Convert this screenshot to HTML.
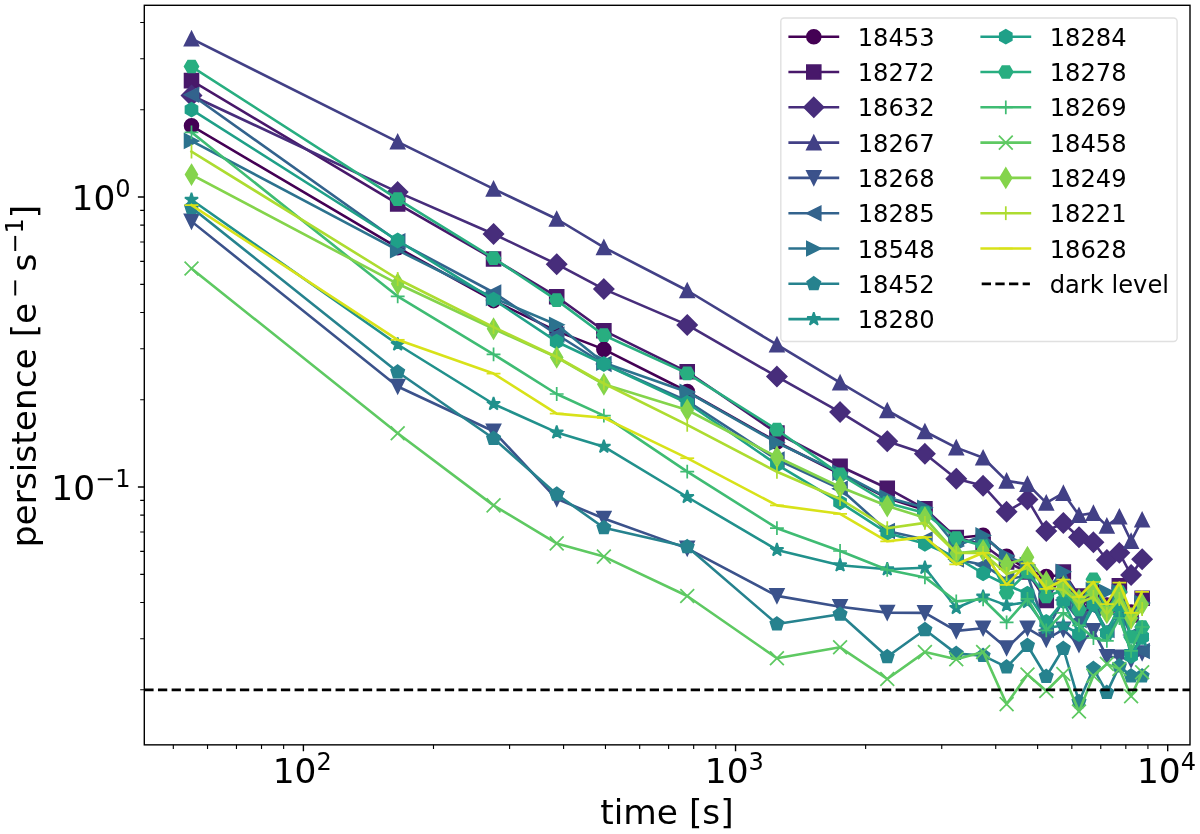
<!DOCTYPE html>
<html lang="en"><head><meta charset="utf-8"><title>persistence vs time</title>
<style>html,body{margin:0;padding:0;background:#fff}svg{display:block}</style></head>
<body>
<svg width="1200" height="834" viewBox="0 0 1200 834" font-family="'DejaVu Sans', 'Liberation Sans', sans-serif" fill="#000">
<rect width="1200" height="834" fill="#fff"/>
<defs><clipPath id="ax"><rect x="144.3" y="5.3" width="1045.7" height="739.55"/></clipPath></defs>
<g clip-path="url(#ax)">
<polyline points="191.5,125.8 397.69,247.7 493.56,300.6 556.71,331.1 603.87,349.4 687.23,391.5 776.93,442 840.08,474 887.25,498 924.91,510 956.26,538 983.12,535.2 1006.61,556.3 1027.48,570 1046.27,576.5 1063.34,575 1078.99,609 1093.43,590 1106.85,605 1119.36,588 1131.1,612 1142.14,600" fill="none" stroke="#440154" stroke-width="2.6" stroke-linejoin="round" stroke-linecap="square"/>
<g><circle cx="191.5" cy="125.8" r="6.92" fill="#440154" stroke="#440154" stroke-width="1.73" stroke-linejoin="miter"/><circle cx="397.69" cy="247.7" r="6.92" fill="#440154" stroke="#440154" stroke-width="1.73" stroke-linejoin="miter"/><circle cx="493.56" cy="300.6" r="6.92" fill="#440154" stroke="#440154" stroke-width="1.73" stroke-linejoin="miter"/><circle cx="556.71" cy="331.1" r="6.92" fill="#440154" stroke="#440154" stroke-width="1.73" stroke-linejoin="miter"/><circle cx="603.87" cy="349.4" r="6.92" fill="#440154" stroke="#440154" stroke-width="1.73" stroke-linejoin="miter"/><circle cx="687.23" cy="391.5" r="6.92" fill="#440154" stroke="#440154" stroke-width="1.73" stroke-linejoin="miter"/><circle cx="776.93" cy="442" r="6.92" fill="#440154" stroke="#440154" stroke-width="1.73" stroke-linejoin="miter"/><circle cx="840.08" cy="474" r="6.92" fill="#440154" stroke="#440154" stroke-width="1.73" stroke-linejoin="miter"/><circle cx="887.25" cy="498" r="6.92" fill="#440154" stroke="#440154" stroke-width="1.73" stroke-linejoin="miter"/><circle cx="924.91" cy="510" r="6.92" fill="#440154" stroke="#440154" stroke-width="1.73" stroke-linejoin="miter"/><circle cx="956.26" cy="538" r="6.92" fill="#440154" stroke="#440154" stroke-width="1.73" stroke-linejoin="miter"/><circle cx="983.12" cy="535.2" r="6.92" fill="#440154" stroke="#440154" stroke-width="1.73" stroke-linejoin="miter"/><circle cx="1006.61" cy="556.3" r="6.92" fill="#440154" stroke="#440154" stroke-width="1.73" stroke-linejoin="miter"/><circle cx="1027.48" cy="570" r="6.92" fill="#440154" stroke="#440154" stroke-width="1.73" stroke-linejoin="miter"/><circle cx="1046.27" cy="576.5" r="6.92" fill="#440154" stroke="#440154" stroke-width="1.73" stroke-linejoin="miter"/><circle cx="1063.34" cy="575" r="6.92" fill="#440154" stroke="#440154" stroke-width="1.73" stroke-linejoin="miter"/><circle cx="1078.99" cy="609" r="6.92" fill="#440154" stroke="#440154" stroke-width="1.73" stroke-linejoin="miter"/><circle cx="1093.43" cy="590" r="6.92" fill="#440154" stroke="#440154" stroke-width="1.73" stroke-linejoin="miter"/><circle cx="1106.85" cy="605" r="6.92" fill="#440154" stroke="#440154" stroke-width="1.73" stroke-linejoin="miter"/><circle cx="1119.36" cy="588" r="6.92" fill="#440154" stroke="#440154" stroke-width="1.73" stroke-linejoin="miter"/><circle cx="1131.1" cy="612" r="6.92" fill="#440154" stroke="#440154" stroke-width="1.73" stroke-linejoin="miter"/><circle cx="1142.14" cy="600" r="6.92" fill="#440154" stroke="#440154" stroke-width="1.73" stroke-linejoin="miter"/></g>
<polyline points="191.5,80.6 397.69,203.9 493.56,259 556.71,296.7 603.87,330.7 687.23,371.8 776.93,433 840.08,466.2 887.25,488.2 924.91,508.8 956.26,537.6 983.12,544.8 1006.61,562 1027.48,572 1046.27,600.5 1063.34,572 1078.99,596 1093.43,604 1106.85,606 1119.36,585.8 1131.1,615 1142.14,598.2" fill="none" stroke="#48186a" stroke-width="2.6" stroke-linejoin="round" stroke-linecap="square"/>
<g><path d="M184.58 87.52L198.42 87.52L198.42 73.68L184.58 73.68Z" fill="#48186a" stroke="#48186a" stroke-width="1.73" stroke-linejoin="miter"/><path d="M390.77 210.82L404.61 210.82L404.61 196.98L390.77 196.98Z" fill="#48186a" stroke="#48186a" stroke-width="1.73" stroke-linejoin="miter"/><path d="M486.64 265.92L500.48 265.92L500.48 252.08L486.64 252.08Z" fill="#48186a" stroke="#48186a" stroke-width="1.73" stroke-linejoin="miter"/><path d="M549.79 303.62L563.63 303.62L563.63 289.78L549.79 289.78Z" fill="#48186a" stroke="#48186a" stroke-width="1.73" stroke-linejoin="miter"/><path d="M596.95 337.62L610.79 337.62L610.79 323.78L596.95 323.78Z" fill="#48186a" stroke="#48186a" stroke-width="1.73" stroke-linejoin="miter"/><path d="M680.31 378.72L694.15 378.72L694.15 364.88L680.31 364.88Z" fill="#48186a" stroke="#48186a" stroke-width="1.73" stroke-linejoin="miter"/><path d="M770.01 439.92L783.85 439.92L783.85 426.08L770.01 426.08Z" fill="#48186a" stroke="#48186a" stroke-width="1.73" stroke-linejoin="miter"/><path d="M833.16 473.12L847 473.12L847 459.28L833.16 459.28Z" fill="#48186a" stroke="#48186a" stroke-width="1.73" stroke-linejoin="miter"/><path d="M880.33 495.12L894.17 495.12L894.17 481.28L880.33 481.28Z" fill="#48186a" stroke="#48186a" stroke-width="1.73" stroke-linejoin="miter"/><path d="M917.99 515.72L931.83 515.72L931.83 501.88L917.99 501.88Z" fill="#48186a" stroke="#48186a" stroke-width="1.73" stroke-linejoin="miter"/><path d="M949.34 544.52L963.18 544.52L963.18 530.68L949.34 530.68Z" fill="#48186a" stroke="#48186a" stroke-width="1.73" stroke-linejoin="miter"/><path d="M976.2 551.72L990.04 551.72L990.04 537.88L976.2 537.88Z" fill="#48186a" stroke="#48186a" stroke-width="1.73" stroke-linejoin="miter"/><path d="M999.69 568.92L1013.53 568.92L1013.53 555.08L999.69 555.08Z" fill="#48186a" stroke="#48186a" stroke-width="1.73" stroke-linejoin="miter"/><path d="M1020.56 578.92L1034.4 578.92L1034.4 565.08L1020.56 565.08Z" fill="#48186a" stroke="#48186a" stroke-width="1.73" stroke-linejoin="miter"/><path d="M1039.35 607.42L1053.19 607.42L1053.19 593.58L1039.35 593.58Z" fill="#48186a" stroke="#48186a" stroke-width="1.73" stroke-linejoin="miter"/><path d="M1056.42 578.92L1070.26 578.92L1070.26 565.08L1056.42 565.08Z" fill="#48186a" stroke="#48186a" stroke-width="1.73" stroke-linejoin="miter"/><path d="M1072.07 602.92L1085.91 602.92L1085.91 589.08L1072.07 589.08Z" fill="#48186a" stroke="#48186a" stroke-width="1.73" stroke-linejoin="miter"/><path d="M1086.51 610.92L1100.35 610.92L1100.35 597.08L1086.51 597.08Z" fill="#48186a" stroke="#48186a" stroke-width="1.73" stroke-linejoin="miter"/><path d="M1099.93 612.92L1113.77 612.92L1113.77 599.08L1099.93 599.08Z" fill="#48186a" stroke="#48186a" stroke-width="1.73" stroke-linejoin="miter"/><path d="M1112.44 592.72L1126.28 592.72L1126.28 578.88L1112.44 578.88Z" fill="#48186a" stroke="#48186a" stroke-width="1.73" stroke-linejoin="miter"/><path d="M1124.18 621.92L1138.02 621.92L1138.02 608.08L1124.18 608.08Z" fill="#48186a" stroke="#48186a" stroke-width="1.73" stroke-linejoin="miter"/><path d="M1135.22 605.12L1149.06 605.12L1149.06 591.28L1135.22 591.28Z" fill="#48186a" stroke="#48186a" stroke-width="1.73" stroke-linejoin="miter"/></g>
<polyline points="191.5,95.5 397.69,192.1 493.56,234 556.71,264.2 603.87,289.1 687.23,324.9 776.93,376.6 840.08,412.1 887.25,441.2 924.91,453.8 956.26,478.7 983.12,485.8 1006.61,511.8 1027.48,499.4 1046.27,531.1 1063.34,523 1078.99,537.2 1093.43,542.3 1106.85,560 1119.36,552.8 1131.1,575 1142.14,559.2" fill="none" stroke="#472d7b" stroke-width="2.6" stroke-linejoin="round" stroke-linecap="square"/>
<g><path d="M191.5 85.71L201.28 95.5L191.5 105.29L181.71 95.5Z" fill="#472d7b" stroke="#472d7b" stroke-width="1.73" stroke-linejoin="miter"/><path d="M397.69 182.31L407.47 192.1L397.69 201.89L387.9 192.1Z" fill="#472d7b" stroke="#472d7b" stroke-width="1.73" stroke-linejoin="miter"/><path d="M493.56 224.21L503.34 234L493.56 243.79L483.77 234Z" fill="#472d7b" stroke="#472d7b" stroke-width="1.73" stroke-linejoin="miter"/><path d="M556.71 254.41L566.49 264.2L556.71 273.99L546.92 264.2Z" fill="#472d7b" stroke="#472d7b" stroke-width="1.73" stroke-linejoin="miter"/><path d="M603.87 279.31L613.66 289.1L603.87 298.89L594.09 289.1Z" fill="#472d7b" stroke="#472d7b" stroke-width="1.73" stroke-linejoin="miter"/><path d="M687.23 315.11L697.01 324.9L687.23 334.69L677.44 324.9Z" fill="#472d7b" stroke="#472d7b" stroke-width="1.73" stroke-linejoin="miter"/><path d="M776.93 366.81L786.72 376.6L776.93 386.39L767.14 376.6Z" fill="#472d7b" stroke="#472d7b" stroke-width="1.73" stroke-linejoin="miter"/><path d="M840.08 402.31L849.87 412.1L840.08 421.89L830.29 412.1Z" fill="#472d7b" stroke="#472d7b" stroke-width="1.73" stroke-linejoin="miter"/><path d="M887.25 431.41L897.03 441.2L887.25 450.99L877.46 441.2Z" fill="#472d7b" stroke="#472d7b" stroke-width="1.73" stroke-linejoin="miter"/><path d="M924.91 444.01L934.69 453.8L924.91 463.59L915.12 453.8Z" fill="#472d7b" stroke="#472d7b" stroke-width="1.73" stroke-linejoin="miter"/><path d="M956.26 468.91L966.05 478.7L956.26 488.49L946.47 478.7Z" fill="#472d7b" stroke="#472d7b" stroke-width="1.73" stroke-linejoin="miter"/><path d="M983.12 476.01L992.9 485.8L983.12 495.59L973.33 485.8Z" fill="#472d7b" stroke="#472d7b" stroke-width="1.73" stroke-linejoin="miter"/><path d="M1006.61 502.01L1016.39 511.8L1006.61 521.59L996.82 511.8Z" fill="#472d7b" stroke="#472d7b" stroke-width="1.73" stroke-linejoin="miter"/><path d="M1027.48 489.61L1037.27 499.4L1027.48 509.19L1017.7 499.4Z" fill="#472d7b" stroke="#472d7b" stroke-width="1.73" stroke-linejoin="miter"/><path d="M1046.27 521.31L1056.05 531.1L1046.27 540.89L1036.48 531.1Z" fill="#472d7b" stroke="#472d7b" stroke-width="1.73" stroke-linejoin="miter"/><path d="M1063.34 513.21L1073.13 523L1063.34 532.79L1053.55 523Z" fill="#472d7b" stroke="#472d7b" stroke-width="1.73" stroke-linejoin="miter"/><path d="M1078.99 527.41L1088.78 537.2L1078.99 546.99L1069.2 537.2Z" fill="#472d7b" stroke="#472d7b" stroke-width="1.73" stroke-linejoin="miter"/><path d="M1093.43 532.51L1103.22 542.3L1093.43 552.09L1083.65 542.3Z" fill="#472d7b" stroke="#472d7b" stroke-width="1.73" stroke-linejoin="miter"/><path d="M1106.85 550.21L1116.63 560L1106.85 569.79L1097.06 560Z" fill="#472d7b" stroke="#472d7b" stroke-width="1.73" stroke-linejoin="miter"/><path d="M1119.36 543.01L1129.15 552.8L1119.36 562.59L1109.58 552.8Z" fill="#472d7b" stroke="#472d7b" stroke-width="1.73" stroke-linejoin="miter"/><path d="M1131.1 565.21L1140.88 575L1131.1 584.79L1121.31 575Z" fill="#472d7b" stroke="#472d7b" stroke-width="1.73" stroke-linejoin="miter"/><path d="M1142.14 549.41L1151.93 559.2L1142.14 568.99L1132.35 559.2Z" fill="#472d7b" stroke="#472d7b" stroke-width="1.73" stroke-linejoin="miter"/></g>
<polyline points="191.5,38.7 397.69,141.8 493.56,188.9 556.71,219 603.87,247.4 687.23,290.5 776.93,344.7 840.08,382.7 887.25,410.5 924.91,431.5 956.26,447.6 983.12,457.8 1006.61,480.9 1027.48,484.1 1046.27,502.9 1063.34,493.2 1078.99,515.3 1093.43,513.1 1106.85,525.9 1119.36,516.8 1131.1,541.1 1142.14,519.8" fill="none" stroke="#424086" stroke-width="2.6" stroke-linejoin="round" stroke-linecap="square"/>
<g><path d="M191.5 31.78L184.58 45.62L198.42 45.62Z" fill="#424086" stroke="#424086" stroke-width="1.73" stroke-linejoin="miter"/><path d="M397.69 134.88L390.77 148.72L404.61 148.72Z" fill="#424086" stroke="#424086" stroke-width="1.73" stroke-linejoin="miter"/><path d="M493.56 181.98L486.64 195.82L500.48 195.82Z" fill="#424086" stroke="#424086" stroke-width="1.73" stroke-linejoin="miter"/><path d="M556.71 212.08L549.79 225.92L563.63 225.92Z" fill="#424086" stroke="#424086" stroke-width="1.73" stroke-linejoin="miter"/><path d="M603.87 240.48L596.95 254.32L610.79 254.32Z" fill="#424086" stroke="#424086" stroke-width="1.73" stroke-linejoin="miter"/><path d="M687.23 283.58L680.31 297.42L694.15 297.42Z" fill="#424086" stroke="#424086" stroke-width="1.73" stroke-linejoin="miter"/><path d="M776.93 337.78L770.01 351.62L783.85 351.62Z" fill="#424086" stroke="#424086" stroke-width="1.73" stroke-linejoin="miter"/><path d="M840.08 375.78L833.16 389.62L847 389.62Z" fill="#424086" stroke="#424086" stroke-width="1.73" stroke-linejoin="miter"/><path d="M887.25 403.58L880.33 417.42L894.17 417.42Z" fill="#424086" stroke="#424086" stroke-width="1.73" stroke-linejoin="miter"/><path d="M924.91 424.58L917.99 438.42L931.83 438.42Z" fill="#424086" stroke="#424086" stroke-width="1.73" stroke-linejoin="miter"/><path d="M956.26 440.68L949.34 454.52L963.18 454.52Z" fill="#424086" stroke="#424086" stroke-width="1.73" stroke-linejoin="miter"/><path d="M983.12 450.88L976.2 464.72L990.04 464.72Z" fill="#424086" stroke="#424086" stroke-width="1.73" stroke-linejoin="miter"/><path d="M1006.61 473.98L999.69 487.82L1013.53 487.82Z" fill="#424086" stroke="#424086" stroke-width="1.73" stroke-linejoin="miter"/><path d="M1027.48 477.18L1020.56 491.02L1034.4 491.02Z" fill="#424086" stroke="#424086" stroke-width="1.73" stroke-linejoin="miter"/><path d="M1046.27 495.98L1039.35 509.82L1053.19 509.82Z" fill="#424086" stroke="#424086" stroke-width="1.73" stroke-linejoin="miter"/><path d="M1063.34 486.28L1056.42 500.12L1070.26 500.12Z" fill="#424086" stroke="#424086" stroke-width="1.73" stroke-linejoin="miter"/><path d="M1078.99 508.38L1072.07 522.22L1085.91 522.22Z" fill="#424086" stroke="#424086" stroke-width="1.73" stroke-linejoin="miter"/><path d="M1093.43 506.18L1086.51 520.02L1100.35 520.02Z" fill="#424086" stroke="#424086" stroke-width="1.73" stroke-linejoin="miter"/><path d="M1106.85 518.98L1099.93 532.82L1113.77 532.82Z" fill="#424086" stroke="#424086" stroke-width="1.73" stroke-linejoin="miter"/><path d="M1119.36 509.88L1112.44 523.72L1126.28 523.72Z" fill="#424086" stroke="#424086" stroke-width="1.73" stroke-linejoin="miter"/><path d="M1131.1 534.18L1124.18 548.02L1138.02 548.02Z" fill="#424086" stroke="#424086" stroke-width="1.73" stroke-linejoin="miter"/><path d="M1142.14 512.88L1135.22 526.72L1149.06 526.72Z" fill="#424086" stroke="#424086" stroke-width="1.73" stroke-linejoin="miter"/></g>
<polyline points="191.5,221.4 397.69,386.5 493.56,431.3 556.71,498.8 603.87,518.5 687.23,548.4 776.93,595.9 840.08,606.7 887.25,612.6 924.91,612.9 956.26,630.9 983.12,628.2 1006.61,648 1027.48,628.3 1046.27,639.5 1063.34,629.4 1078.99,644.7 1093.43,630.8 1106.85,656.7 1119.36,657.2 1131.1,660 1142.14,653" fill="none" stroke="#3b528b" stroke-width="2.6" stroke-linejoin="round" stroke-linecap="square"/>
<g><path d="M191.5 228.32L184.58 214.48L198.42 214.48Z" fill="#3b528b" stroke="#3b528b" stroke-width="1.73" stroke-linejoin="miter"/><path d="M397.69 393.42L390.77 379.58L404.61 379.58Z" fill="#3b528b" stroke="#3b528b" stroke-width="1.73" stroke-linejoin="miter"/><path d="M493.56 438.22L486.64 424.38L500.48 424.38Z" fill="#3b528b" stroke="#3b528b" stroke-width="1.73" stroke-linejoin="miter"/><path d="M556.71 505.72L549.79 491.88L563.63 491.88Z" fill="#3b528b" stroke="#3b528b" stroke-width="1.73" stroke-linejoin="miter"/><path d="M603.87 525.42L596.95 511.58L610.79 511.58Z" fill="#3b528b" stroke="#3b528b" stroke-width="1.73" stroke-linejoin="miter"/><path d="M687.23 555.32L680.31 541.48L694.15 541.48Z" fill="#3b528b" stroke="#3b528b" stroke-width="1.73" stroke-linejoin="miter"/><path d="M776.93 602.82L770.01 588.98L783.85 588.98Z" fill="#3b528b" stroke="#3b528b" stroke-width="1.73" stroke-linejoin="miter"/><path d="M840.08 613.62L833.16 599.78L847 599.78Z" fill="#3b528b" stroke="#3b528b" stroke-width="1.73" stroke-linejoin="miter"/><path d="M887.25 619.52L880.33 605.68L894.17 605.68Z" fill="#3b528b" stroke="#3b528b" stroke-width="1.73" stroke-linejoin="miter"/><path d="M924.91 619.82L917.99 605.98L931.83 605.98Z" fill="#3b528b" stroke="#3b528b" stroke-width="1.73" stroke-linejoin="miter"/><path d="M956.26 637.82L949.34 623.98L963.18 623.98Z" fill="#3b528b" stroke="#3b528b" stroke-width="1.73" stroke-linejoin="miter"/><path d="M983.12 635.12L976.2 621.28L990.04 621.28Z" fill="#3b528b" stroke="#3b528b" stroke-width="1.73" stroke-linejoin="miter"/><path d="M1006.61 654.92L999.69 641.08L1013.53 641.08Z" fill="#3b528b" stroke="#3b528b" stroke-width="1.73" stroke-linejoin="miter"/><path d="M1027.48 635.22L1020.56 621.38L1034.4 621.38Z" fill="#3b528b" stroke="#3b528b" stroke-width="1.73" stroke-linejoin="miter"/><path d="M1046.27 646.42L1039.35 632.58L1053.19 632.58Z" fill="#3b528b" stroke="#3b528b" stroke-width="1.73" stroke-linejoin="miter"/><path d="M1063.34 636.32L1056.42 622.48L1070.26 622.48Z" fill="#3b528b" stroke="#3b528b" stroke-width="1.73" stroke-linejoin="miter"/><path d="M1078.99 651.62L1072.07 637.78L1085.91 637.78Z" fill="#3b528b" stroke="#3b528b" stroke-width="1.73" stroke-linejoin="miter"/><path d="M1093.43 637.72L1086.51 623.88L1100.35 623.88Z" fill="#3b528b" stroke="#3b528b" stroke-width="1.73" stroke-linejoin="miter"/><path d="M1106.85 663.62L1099.93 649.78L1113.77 649.78Z" fill="#3b528b" stroke="#3b528b" stroke-width="1.73" stroke-linejoin="miter"/><path d="M1119.36 664.12L1112.44 650.28L1126.28 650.28Z" fill="#3b528b" stroke="#3b528b" stroke-width="1.73" stroke-linejoin="miter"/><path d="M1131.1 666.92L1124.18 653.08L1138.02 653.08Z" fill="#3b528b" stroke="#3b528b" stroke-width="1.73" stroke-linejoin="miter"/><path d="M1142.14 659.92L1135.22 646.08L1149.06 646.08Z" fill="#3b528b" stroke="#3b528b" stroke-width="1.73" stroke-linejoin="miter"/></g>
<polyline points="191.5,94.7 397.69,241.3 493.56,292.5 556.71,334.5 603.87,364 687.23,401 776.93,459.6 840.08,488.7 887.25,531 924.91,539.6 956.26,559.5 983.12,564.7 1006.61,580 1027.48,575 1046.27,630 1063.34,600 1078.99,620 1093.43,608 1106.85,630 1119.36,610 1131.1,635 1142.14,651" fill="none" stroke="#33638d" stroke-width="2.6" stroke-linejoin="round" stroke-linecap="square"/>
<g><path d="M184.58 94.7L198.42 87.78L198.42 101.62Z" fill="#33638d" stroke="#33638d" stroke-width="1.73" stroke-linejoin="miter"/><path d="M390.77 241.3L404.61 234.38L404.61 248.22Z" fill="#33638d" stroke="#33638d" stroke-width="1.73" stroke-linejoin="miter"/><path d="M486.64 292.5L500.48 285.58L500.48 299.42Z" fill="#33638d" stroke="#33638d" stroke-width="1.73" stroke-linejoin="miter"/><path d="M549.79 334.5L563.63 327.58L563.63 341.42Z" fill="#33638d" stroke="#33638d" stroke-width="1.73" stroke-linejoin="miter"/><path d="M596.95 364L610.79 357.08L610.79 370.92Z" fill="#33638d" stroke="#33638d" stroke-width="1.73" stroke-linejoin="miter"/><path d="M680.31 401L694.15 394.08L694.15 407.92Z" fill="#33638d" stroke="#33638d" stroke-width="1.73" stroke-linejoin="miter"/><path d="M770.01 459.6L783.85 452.68L783.85 466.52Z" fill="#33638d" stroke="#33638d" stroke-width="1.73" stroke-linejoin="miter"/><path d="M833.16 488.7L847 481.78L847 495.62Z" fill="#33638d" stroke="#33638d" stroke-width="1.73" stroke-linejoin="miter"/><path d="M880.33 531L894.17 524.08L894.17 537.92Z" fill="#33638d" stroke="#33638d" stroke-width="1.73" stroke-linejoin="miter"/><path d="M917.99 539.6L931.83 532.68L931.83 546.52Z" fill="#33638d" stroke="#33638d" stroke-width="1.73" stroke-linejoin="miter"/><path d="M949.34 559.5L963.18 552.58L963.18 566.42Z" fill="#33638d" stroke="#33638d" stroke-width="1.73" stroke-linejoin="miter"/><path d="M976.2 564.7L990.04 557.78L990.04 571.62Z" fill="#33638d" stroke="#33638d" stroke-width="1.73" stroke-linejoin="miter"/><path d="M999.69 580L1013.53 573.08L1013.53 586.92Z" fill="#33638d" stroke="#33638d" stroke-width="1.73" stroke-linejoin="miter"/><path d="M1020.56 575L1034.4 568.08L1034.4 581.92Z" fill="#33638d" stroke="#33638d" stroke-width="1.73" stroke-linejoin="miter"/><path d="M1039.35 630L1053.19 623.08L1053.19 636.92Z" fill="#33638d" stroke="#33638d" stroke-width="1.73" stroke-linejoin="miter"/><path d="M1056.42 600L1070.26 593.08L1070.26 606.92Z" fill="#33638d" stroke="#33638d" stroke-width="1.73" stroke-linejoin="miter"/><path d="M1072.07 620L1085.91 613.08L1085.91 626.92Z" fill="#33638d" stroke="#33638d" stroke-width="1.73" stroke-linejoin="miter"/><path d="M1086.51 608L1100.35 601.08L1100.35 614.92Z" fill="#33638d" stroke="#33638d" stroke-width="1.73" stroke-linejoin="miter"/><path d="M1099.93 630L1113.77 623.08L1113.77 636.92Z" fill="#33638d" stroke="#33638d" stroke-width="1.73" stroke-linejoin="miter"/><path d="M1112.44 610L1126.28 603.08L1126.28 616.92Z" fill="#33638d" stroke="#33638d" stroke-width="1.73" stroke-linejoin="miter"/><path d="M1124.18 635L1138.02 628.08L1138.02 641.92Z" fill="#33638d" stroke="#33638d" stroke-width="1.73" stroke-linejoin="miter"/><path d="M1135.22 651L1149.06 644.08L1149.06 657.92Z" fill="#33638d" stroke="#33638d" stroke-width="1.73" stroke-linejoin="miter"/></g>
<polyline points="191.5,140.9 397.69,250.2 493.56,298 556.71,324.7 603.87,362.8 687.23,391.9 776.93,442.8 840.08,472.7 887.25,497.6 924.91,507.8 956.26,546 983.12,535.4 1006.61,556.1 1027.48,565 1046.27,590 1063.34,571.8 1078.99,600 1093.43,590 1106.85,592 1119.36,592 1131.1,618 1142.14,603" fill="none" stroke="#2c728e" stroke-width="2.6" stroke-linejoin="round" stroke-linecap="square"/>
<g><path d="M198.42 140.9L184.58 133.98L184.58 147.82Z" fill="#2c728e" stroke="#2c728e" stroke-width="1.73" stroke-linejoin="miter"/><path d="M404.61 250.2L390.77 243.28L390.77 257.12Z" fill="#2c728e" stroke="#2c728e" stroke-width="1.73" stroke-linejoin="miter"/><path d="M500.48 298L486.64 291.08L486.64 304.92Z" fill="#2c728e" stroke="#2c728e" stroke-width="1.73" stroke-linejoin="miter"/><path d="M563.63 324.7L549.79 317.78L549.79 331.62Z" fill="#2c728e" stroke="#2c728e" stroke-width="1.73" stroke-linejoin="miter"/><path d="M610.79 362.8L596.95 355.88L596.95 369.72Z" fill="#2c728e" stroke="#2c728e" stroke-width="1.73" stroke-linejoin="miter"/><path d="M694.15 391.9L680.31 384.98L680.31 398.82Z" fill="#2c728e" stroke="#2c728e" stroke-width="1.73" stroke-linejoin="miter"/><path d="M783.85 442.8L770.01 435.88L770.01 449.72Z" fill="#2c728e" stroke="#2c728e" stroke-width="1.73" stroke-linejoin="miter"/><path d="M847 472.7L833.16 465.78L833.16 479.62Z" fill="#2c728e" stroke="#2c728e" stroke-width="1.73" stroke-linejoin="miter"/><path d="M894.17 497.6L880.33 490.68L880.33 504.52Z" fill="#2c728e" stroke="#2c728e" stroke-width="1.73" stroke-linejoin="miter"/><path d="M931.83 507.8L917.99 500.88L917.99 514.72Z" fill="#2c728e" stroke="#2c728e" stroke-width="1.73" stroke-linejoin="miter"/><path d="M963.18 546L949.34 539.08L949.34 552.92Z" fill="#2c728e" stroke="#2c728e" stroke-width="1.73" stroke-linejoin="miter"/><path d="M990.04 535.4L976.2 528.48L976.2 542.32Z" fill="#2c728e" stroke="#2c728e" stroke-width="1.73" stroke-linejoin="miter"/><path d="M1013.53 556.1L999.69 549.18L999.69 563.02Z" fill="#2c728e" stroke="#2c728e" stroke-width="1.73" stroke-linejoin="miter"/><path d="M1034.4 565L1020.56 558.08L1020.56 571.92Z" fill="#2c728e" stroke="#2c728e" stroke-width="1.73" stroke-linejoin="miter"/><path d="M1053.19 590L1039.35 583.08L1039.35 596.92Z" fill="#2c728e" stroke="#2c728e" stroke-width="1.73" stroke-linejoin="miter"/><path d="M1070.26 571.8L1056.42 564.88L1056.42 578.72Z" fill="#2c728e" stroke="#2c728e" stroke-width="1.73" stroke-linejoin="miter"/><path d="M1085.91 600L1072.07 593.08L1072.07 606.92Z" fill="#2c728e" stroke="#2c728e" stroke-width="1.73" stroke-linejoin="miter"/><path d="M1100.35 590L1086.51 583.08L1086.51 596.92Z" fill="#2c728e" stroke="#2c728e" stroke-width="1.73" stroke-linejoin="miter"/><path d="M1113.77 592L1099.93 585.08L1099.93 598.92Z" fill="#2c728e" stroke="#2c728e" stroke-width="1.73" stroke-linejoin="miter"/><path d="M1126.28 592L1112.44 585.08L1112.44 598.92Z" fill="#2c728e" stroke="#2c728e" stroke-width="1.73" stroke-linejoin="miter"/><path d="M1138.02 618L1124.18 611.08L1124.18 624.92Z" fill="#2c728e" stroke="#2c728e" stroke-width="1.73" stroke-linejoin="miter"/><path d="M1149.06 603L1135.22 596.08L1135.22 609.92Z" fill="#2c728e" stroke="#2c728e" stroke-width="1.73" stroke-linejoin="miter"/></g>
<polyline points="191.5,207.5 397.69,372 493.56,438.5 556.71,494.2 603.87,527.8 687.23,546.8 776.93,624 840.08,614.3 887.25,656.8 924.91,629.7 956.26,653.6 983.12,655.6 1006.61,667.1 1027.48,645.5 1046.27,676.5 1063.34,648.5 1078.99,701.7 1093.43,668.6 1106.85,692.6 1119.36,666.1 1131.1,676 1142.14,676" fill="none" stroke="#26828e" stroke-width="2.6" stroke-linejoin="round" stroke-linecap="square"/>
<g><path d="M191.5 200.58L198.08 205.36L195.57 213.1L187.43 213.1L184.92 205.36Z" fill="#26828e" stroke="#26828e" stroke-width="1.73" stroke-linejoin="miter"/><path d="M397.69 365.08L404.27 369.86L401.75 377.6L393.62 377.6L391.1 369.86Z" fill="#26828e" stroke="#26828e" stroke-width="1.73" stroke-linejoin="miter"/><path d="M493.56 431.58L500.14 436.36L497.63 444.1L489.49 444.1L486.98 436.36Z" fill="#26828e" stroke="#26828e" stroke-width="1.73" stroke-linejoin="miter"/><path d="M556.71 487.28L563.29 492.06L560.77 499.8L552.64 499.8L550.13 492.06Z" fill="#26828e" stroke="#26828e" stroke-width="1.73" stroke-linejoin="miter"/><path d="M603.87 520.88L610.45 525.66L607.94 533.4L599.81 533.4L597.29 525.66Z" fill="#26828e" stroke="#26828e" stroke-width="1.73" stroke-linejoin="miter"/><path d="M687.23 539.88L693.81 544.66L691.29 552.4L683.16 552.4L680.65 544.66Z" fill="#26828e" stroke="#26828e" stroke-width="1.73" stroke-linejoin="miter"/><path d="M776.93 617.08L783.51 621.86L781 629.6L772.86 629.6L770.35 621.86Z" fill="#26828e" stroke="#26828e" stroke-width="1.73" stroke-linejoin="miter"/><path d="M840.08 607.38L846.66 612.16L844.15 619.9L836.01 619.9L833.5 612.16Z" fill="#26828e" stroke="#26828e" stroke-width="1.73" stroke-linejoin="miter"/><path d="M887.25 649.88L893.83 654.66L891.31 662.4L883.18 662.4L880.66 654.66Z" fill="#26828e" stroke="#26828e" stroke-width="1.73" stroke-linejoin="miter"/><path d="M924.91 622.78L931.49 627.56L928.98 635.3L920.84 635.3L918.33 627.56Z" fill="#26828e" stroke="#26828e" stroke-width="1.73" stroke-linejoin="miter"/><path d="M956.26 646.68L962.84 651.46L960.33 659.2L952.19 659.2L949.68 651.46Z" fill="#26828e" stroke="#26828e" stroke-width="1.73" stroke-linejoin="miter"/><path d="M983.12 648.68L989.7 653.46L987.19 661.2L979.05 661.2L976.54 653.46Z" fill="#26828e" stroke="#26828e" stroke-width="1.73" stroke-linejoin="miter"/><path d="M1006.61 660.18L1013.19 664.96L1010.68 672.7L1002.54 672.7L1000.03 664.96Z" fill="#26828e" stroke="#26828e" stroke-width="1.73" stroke-linejoin="miter"/><path d="M1027.48 638.58L1034.06 643.36L1031.55 651.1L1023.42 651.1L1020.9 643.36Z" fill="#26828e" stroke="#26828e" stroke-width="1.73" stroke-linejoin="miter"/><path d="M1046.27 669.58L1052.85 674.36L1050.33 682.1L1042.2 682.1L1039.69 674.36Z" fill="#26828e" stroke="#26828e" stroke-width="1.73" stroke-linejoin="miter"/><path d="M1063.34 641.58L1069.92 646.36L1067.41 654.1L1059.27 654.1L1056.76 646.36Z" fill="#26828e" stroke="#26828e" stroke-width="1.73" stroke-linejoin="miter"/><path d="M1078.99 694.78L1085.57 699.56L1083.06 707.3L1074.92 707.3L1072.41 699.56Z" fill="#26828e" stroke="#26828e" stroke-width="1.73" stroke-linejoin="miter"/><path d="M1093.43 661.68L1100.01 666.46L1097.5 674.2L1089.37 674.2L1086.85 666.46Z" fill="#26828e" stroke="#26828e" stroke-width="1.73" stroke-linejoin="miter"/><path d="M1106.85 685.68L1113.43 690.46L1110.91 698.2L1102.78 698.2L1100.26 690.46Z" fill="#26828e" stroke="#26828e" stroke-width="1.73" stroke-linejoin="miter"/><path d="M1119.36 659.18L1125.94 663.96L1123.43 671.7L1115.29 671.7L1112.78 663.96Z" fill="#26828e" stroke="#26828e" stroke-width="1.73" stroke-linejoin="miter"/><path d="M1131.1 669.08L1137.68 673.86L1135.16 681.6L1127.03 681.6L1124.51 673.86Z" fill="#26828e" stroke="#26828e" stroke-width="1.73" stroke-linejoin="miter"/><path d="M1142.14 669.08L1148.72 673.86L1146.21 681.6L1138.07 681.6L1135.56 673.86Z" fill="#26828e" stroke="#26828e" stroke-width="1.73" stroke-linejoin="miter"/></g>
<polyline points="191.5,199.8 397.69,344.5 493.56,404 556.71,432.4 603.87,446.7 687.23,497 776.93,549.9 840.08,565.3 887.25,569.3 924.91,567.8 956.26,608 983.12,596.6 1006.61,605.4 1027.48,602 1046.27,628 1063.34,625.5 1078.99,633.6 1093.43,607 1106.85,634 1119.36,616 1131.1,652 1142.14,640" fill="none" stroke="#21918c" stroke-width="2.6" stroke-linejoin="round" stroke-linecap="square"/>
<g><path d="M191.5 192.88L193.05 197.66L198.08 197.66L194.01 200.62L195.57 205.4L191.5 202.44L187.43 205.4L188.98 200.62L184.92 197.66L189.94 197.66Z" fill="#21918c" stroke="#21918c" stroke-width="1.73" stroke-linejoin="bevel"/><path d="M397.69 337.58L399.24 342.36L404.27 342.36L400.2 345.32L401.75 350.1L397.69 347.14L393.62 350.1L395.17 345.32L391.1 342.36L396.13 342.36Z" fill="#21918c" stroke="#21918c" stroke-width="1.73" stroke-linejoin="bevel"/><path d="M493.56 397.08L495.11 401.86L500.14 401.86L496.07 404.82L497.63 409.6L493.56 406.64L489.49 409.6L491.04 404.82L486.98 401.86L492 401.86Z" fill="#21918c" stroke="#21918c" stroke-width="1.73" stroke-linejoin="bevel"/><path d="M556.71 425.48L558.26 430.26L563.29 430.26L559.22 433.22L560.77 438L556.71 435.04L552.64 438L554.19 433.22L550.13 430.26L555.15 430.26Z" fill="#21918c" stroke="#21918c" stroke-width="1.73" stroke-linejoin="bevel"/><path d="M603.87 439.78L605.43 444.56L610.45 444.56L606.39 447.52L607.94 452.3L603.87 449.34L599.81 452.3L601.36 447.52L597.29 444.56L602.32 444.56Z" fill="#21918c" stroke="#21918c" stroke-width="1.73" stroke-linejoin="bevel"/><path d="M687.23 490.08L688.78 494.86L693.81 494.86L689.74 497.82L691.29 502.6L687.23 499.64L683.16 502.6L684.71 497.82L680.65 494.86L685.67 494.86Z" fill="#21918c" stroke="#21918c" stroke-width="1.73" stroke-linejoin="bevel"/><path d="M776.93 542.98L778.48 547.76L783.51 547.76L779.44 550.72L781 555.5L776.93 552.54L772.86 555.5L774.42 550.72L770.35 547.76L775.38 547.76Z" fill="#21918c" stroke="#21918c" stroke-width="1.73" stroke-linejoin="bevel"/><path d="M840.08 558.38L841.63 563.16L846.66 563.16L842.59 566.12L844.15 570.9L840.08 567.94L836.01 570.9L837.57 566.12L833.5 563.16L838.53 563.16Z" fill="#21918c" stroke="#21918c" stroke-width="1.73" stroke-linejoin="bevel"/><path d="M887.25 562.38L888.8 567.16L893.83 567.16L889.76 570.12L891.31 574.9L887.25 571.94L883.18 574.9L884.73 570.12L880.66 567.16L885.69 567.16Z" fill="#21918c" stroke="#21918c" stroke-width="1.73" stroke-linejoin="bevel"/><path d="M924.91 560.88L926.46 565.66L931.49 565.66L927.42 568.62L928.98 573.4L924.91 570.44L920.84 573.4L922.39 568.62L918.33 565.66L923.35 565.66Z" fill="#21918c" stroke="#21918c" stroke-width="1.73" stroke-linejoin="bevel"/><path d="M956.26 601.08L957.81 605.86L962.84 605.86L958.77 608.82L960.33 613.6L956.26 610.64L952.19 613.6L953.75 608.82L949.68 605.86L954.71 605.86Z" fill="#21918c" stroke="#21918c" stroke-width="1.73" stroke-linejoin="bevel"/><path d="M983.12 589.68L984.67 594.46L989.7 594.46L985.63 597.42L987.19 602.2L983.12 599.24L979.05 602.2L980.6 597.42L976.54 594.46L981.56 594.46Z" fill="#21918c" stroke="#21918c" stroke-width="1.73" stroke-linejoin="bevel"/><path d="M1006.61 598.48L1008.16 603.26L1013.19 603.26L1009.12 606.22L1010.68 611L1006.61 608.04L1002.54 611L1004.09 606.22L1000.03 603.26L1005.05 603.26Z" fill="#21918c" stroke="#21918c" stroke-width="1.73" stroke-linejoin="bevel"/><path d="M1027.48 595.08L1029.04 599.86L1034.06 599.86L1030 602.82L1031.55 607.6L1027.48 604.64L1023.42 607.6L1024.97 602.82L1020.9 599.86L1025.93 599.86Z" fill="#21918c" stroke="#21918c" stroke-width="1.73" stroke-linejoin="bevel"/><path d="M1046.27 621.08L1047.82 625.86L1052.85 625.86L1048.78 628.82L1050.33 633.6L1046.27 630.64L1042.2 633.6L1043.75 628.82L1039.69 625.86L1044.71 625.86Z" fill="#21918c" stroke="#21918c" stroke-width="1.73" stroke-linejoin="bevel"/><path d="M1063.34 618.58L1064.89 623.36L1069.92 623.36L1065.85 626.32L1067.41 631.1L1063.34 628.14L1059.27 631.1L1060.83 626.32L1056.76 623.36L1061.79 623.36Z" fill="#21918c" stroke="#21918c" stroke-width="1.73" stroke-linejoin="bevel"/><path d="M1078.99 626.68L1080.54 631.46L1085.57 631.46L1081.5 634.42L1083.06 639.2L1078.99 636.24L1074.92 639.2L1076.48 634.42L1072.41 631.46L1077.44 631.46Z" fill="#21918c" stroke="#21918c" stroke-width="1.73" stroke-linejoin="bevel"/><path d="M1093.43 600.08L1094.99 604.86L1100.01 604.86L1095.95 607.82L1097.5 612.6L1093.43 609.64L1089.37 612.6L1090.92 607.82L1086.85 604.86L1091.88 604.86Z" fill="#21918c" stroke="#21918c" stroke-width="1.73" stroke-linejoin="bevel"/><path d="M1106.85 627.08L1108.4 631.86L1113.43 631.86L1109.36 634.82L1110.91 639.6L1106.85 636.64L1102.78 639.6L1104.33 634.82L1100.26 631.86L1105.29 631.86Z" fill="#21918c" stroke="#21918c" stroke-width="1.73" stroke-linejoin="bevel"/><path d="M1119.36 609.08L1120.92 613.86L1125.94 613.86L1121.88 616.82L1123.43 621.6L1119.36 618.64L1115.29 621.6L1116.85 616.82L1112.78 613.86L1117.81 613.86Z" fill="#21918c" stroke="#21918c" stroke-width="1.73" stroke-linejoin="bevel"/><path d="M1131.1 645.08L1132.65 649.86L1137.68 649.86L1133.61 652.82L1135.16 657.6L1131.1 654.64L1127.03 657.6L1128.58 652.82L1124.51 649.86L1129.54 649.86Z" fill="#21918c" stroke="#21918c" stroke-width="1.73" stroke-linejoin="bevel"/><path d="M1142.14 633.08L1143.69 637.86L1148.72 637.86L1144.65 640.82L1146.21 645.6L1142.14 642.64L1138.07 645.6L1139.62 640.82L1135.56 637.86L1140.59 637.86Z" fill="#21918c" stroke="#21918c" stroke-width="1.73" stroke-linejoin="bevel"/></g>
<polyline points="191.5,109.6 397.69,240.5 493.56,299.6 556.71,341.7 603.87,364 687.23,403 776.93,464.6 840.08,502.4 887.25,532.9 924.91,543.8 956.26,557.5 983.12,573.4 1006.61,585 1027.48,593.7 1046.27,622 1063.34,601.2 1078.99,634 1093.43,604 1106.85,633 1119.36,606 1131.1,656 1142.14,637" fill="none" stroke="#1fa088" stroke-width="2.6" stroke-linejoin="round" stroke-linecap="square"/>
<g><path d="M191.5 102.68L197.49 106.14L197.49 113.06L191.5 116.52L185.5 113.06L185.5 106.14Z" fill="#1fa088" stroke="#1fa088" stroke-width="1.73" stroke-linejoin="miter"/><path d="M397.69 233.58L403.68 237.04L403.68 243.96L397.69 247.42L391.69 243.96L391.69 237.04Z" fill="#1fa088" stroke="#1fa088" stroke-width="1.73" stroke-linejoin="miter"/><path d="M493.56 292.68L499.55 296.14L499.55 303.06L493.56 306.52L487.56 303.06L487.56 296.14Z" fill="#1fa088" stroke="#1fa088" stroke-width="1.73" stroke-linejoin="miter"/><path d="M556.71 334.78L562.7 338.24L562.7 345.16L556.71 348.62L550.71 345.16L550.71 338.24Z" fill="#1fa088" stroke="#1fa088" stroke-width="1.73" stroke-linejoin="miter"/><path d="M603.87 357.08L609.87 360.54L609.87 367.46L603.87 370.92L597.88 367.46L597.88 360.54Z" fill="#1fa088" stroke="#1fa088" stroke-width="1.73" stroke-linejoin="miter"/><path d="M687.23 396.08L693.22 399.54L693.22 406.46L687.23 409.92L681.23 406.46L681.23 399.54Z" fill="#1fa088" stroke="#1fa088" stroke-width="1.73" stroke-linejoin="miter"/><path d="M776.93 457.68L782.92 461.14L782.92 468.06L776.93 471.52L770.94 468.06L770.94 461.14Z" fill="#1fa088" stroke="#1fa088" stroke-width="1.73" stroke-linejoin="miter"/><path d="M840.08 495.48L846.07 498.94L846.07 505.86L840.08 509.32L834.09 505.86L834.09 498.94Z" fill="#1fa088" stroke="#1fa088" stroke-width="1.73" stroke-linejoin="miter"/><path d="M887.25 525.98L893.24 529.44L893.24 536.36L887.25 539.82L881.25 536.36L881.25 529.44Z" fill="#1fa088" stroke="#1fa088" stroke-width="1.73" stroke-linejoin="miter"/><path d="M924.91 536.88L930.9 540.34L930.9 547.26L924.91 550.72L918.91 547.26L918.91 540.34Z" fill="#1fa088" stroke="#1fa088" stroke-width="1.73" stroke-linejoin="miter"/><path d="M956.26 550.58L962.25 554.04L962.25 560.96L956.26 564.42L950.27 560.96L950.27 554.04Z" fill="#1fa088" stroke="#1fa088" stroke-width="1.73" stroke-linejoin="miter"/><path d="M983.12 566.48L989.11 569.94L989.11 576.86L983.12 580.32L977.12 576.86L977.12 569.94Z" fill="#1fa088" stroke="#1fa088" stroke-width="1.73" stroke-linejoin="miter"/><path d="M1006.61 578.08L1012.6 581.54L1012.6 588.46L1006.61 591.92L1000.62 588.46L1000.62 581.54Z" fill="#1fa088" stroke="#1fa088" stroke-width="1.73" stroke-linejoin="miter"/><path d="M1027.48 586.78L1033.48 590.24L1033.48 597.16L1027.48 600.62L1021.49 597.16L1021.49 590.24Z" fill="#1fa088" stroke="#1fa088" stroke-width="1.73" stroke-linejoin="miter"/><path d="M1046.27 615.08L1052.26 618.54L1052.26 625.46L1046.27 628.92L1040.27 625.46L1040.27 618.54Z" fill="#1fa088" stroke="#1fa088" stroke-width="1.73" stroke-linejoin="miter"/><path d="M1063.34 594.28L1069.33 597.74L1069.33 604.66L1063.34 608.12L1057.35 604.66L1057.35 597.74Z" fill="#1fa088" stroke="#1fa088" stroke-width="1.73" stroke-linejoin="miter"/><path d="M1078.99 627.08L1084.98 630.54L1084.98 637.46L1078.99 640.92L1073 637.46L1073 630.54Z" fill="#1fa088" stroke="#1fa088" stroke-width="1.73" stroke-linejoin="miter"/><path d="M1093.43 597.08L1099.43 600.54L1099.43 607.46L1093.43 610.92L1087.44 607.46L1087.44 600.54Z" fill="#1fa088" stroke="#1fa088" stroke-width="1.73" stroke-linejoin="miter"/><path d="M1106.85 626.08L1112.84 629.54L1112.84 636.46L1106.85 639.92L1100.85 636.46L1100.85 629.54Z" fill="#1fa088" stroke="#1fa088" stroke-width="1.73" stroke-linejoin="miter"/><path d="M1119.36 599.08L1125.35 602.54L1125.35 609.46L1119.36 612.92L1113.37 609.46L1113.37 602.54Z" fill="#1fa088" stroke="#1fa088" stroke-width="1.73" stroke-linejoin="miter"/><path d="M1131.1 649.08L1137.09 652.54L1137.09 659.46L1131.1 662.92L1125.1 659.46L1125.1 652.54Z" fill="#1fa088" stroke="#1fa088" stroke-width="1.73" stroke-linejoin="miter"/><path d="M1142.14 630.08L1148.13 633.54L1148.13 640.46L1142.14 643.92L1136.15 640.46L1136.15 633.54Z" fill="#1fa088" stroke="#1fa088" stroke-width="1.73" stroke-linejoin="miter"/></g>
<polyline points="191.5,66.5 397.69,199.2 493.56,258.2 556.71,300.1 603.87,335.2 687.23,373.4 776.93,429.7 840.08,474.4 887.25,503 924.91,513 956.26,538 983.12,546 1006.61,592.7 1027.48,572 1046.27,596.4 1063.34,590 1078.99,609.5 1093.43,579.3 1106.85,610 1119.36,592 1131.1,637 1142.14,627" fill="none" stroke="#28ae80" stroke-width="2.6" stroke-linejoin="round" stroke-linecap="square"/>
<g><path d="M194.96 60.51L198.42 66.5L194.96 72.49L188.04 72.49L184.58 66.5L188.04 60.51Z" fill="#28ae80" stroke="#28ae80" stroke-width="1.73" stroke-linejoin="miter"/><path d="M401.15 193.21L404.61 199.2L401.15 205.19L394.23 205.19L390.77 199.2L394.23 193.21Z" fill="#28ae80" stroke="#28ae80" stroke-width="1.73" stroke-linejoin="miter"/><path d="M497.02 252.21L500.48 258.2L497.02 264.19L490.1 264.19L486.64 258.2L490.1 252.21Z" fill="#28ae80" stroke="#28ae80" stroke-width="1.73" stroke-linejoin="miter"/><path d="M560.17 294.11L563.63 300.1L560.17 306.09L553.25 306.09L549.79 300.1L553.25 294.11Z" fill="#28ae80" stroke="#28ae80" stroke-width="1.73" stroke-linejoin="miter"/><path d="M607.33 329.21L610.79 335.2L607.33 341.19L600.41 341.19L596.95 335.2L600.41 329.21Z" fill="#28ae80" stroke="#28ae80" stroke-width="1.73" stroke-linejoin="miter"/><path d="M690.69 367.41L694.15 373.4L690.69 379.39L683.77 379.39L680.31 373.4L683.77 367.41Z" fill="#28ae80" stroke="#28ae80" stroke-width="1.73" stroke-linejoin="miter"/><path d="M780.39 423.71L783.85 429.7L780.39 435.69L773.47 435.69L770.01 429.7L773.47 423.71Z" fill="#28ae80" stroke="#28ae80" stroke-width="1.73" stroke-linejoin="miter"/><path d="M843.54 468.41L847 474.4L843.54 480.39L836.62 480.39L833.16 474.4L836.62 468.41Z" fill="#28ae80" stroke="#28ae80" stroke-width="1.73" stroke-linejoin="miter"/><path d="M890.71 497.01L894.17 503L890.71 508.99L883.79 508.99L880.33 503L883.79 497.01Z" fill="#28ae80" stroke="#28ae80" stroke-width="1.73" stroke-linejoin="miter"/><path d="M928.37 507.01L931.83 513L928.37 518.99L921.45 518.99L917.99 513L921.45 507.01Z" fill="#28ae80" stroke="#28ae80" stroke-width="1.73" stroke-linejoin="miter"/><path d="M959.72 532.01L963.18 538L959.72 543.99L952.8 543.99L949.34 538L952.8 532.01Z" fill="#28ae80" stroke="#28ae80" stroke-width="1.73" stroke-linejoin="miter"/><path d="M986.58 540.01L990.04 546L986.58 551.99L979.66 551.99L976.2 546L979.66 540.01Z" fill="#28ae80" stroke="#28ae80" stroke-width="1.73" stroke-linejoin="miter"/><path d="M1010.07 586.71L1013.53 592.7L1010.07 598.69L1003.15 598.69L999.69 592.7L1003.15 586.71Z" fill="#28ae80" stroke="#28ae80" stroke-width="1.73" stroke-linejoin="miter"/><path d="M1030.94 566.01L1034.4 572L1030.94 577.99L1024.02 577.99L1020.56 572L1024.02 566.01Z" fill="#28ae80" stroke="#28ae80" stroke-width="1.73" stroke-linejoin="miter"/><path d="M1049.73 590.41L1053.19 596.4L1049.73 602.39L1042.81 602.39L1039.35 596.4L1042.81 590.41Z" fill="#28ae80" stroke="#28ae80" stroke-width="1.73" stroke-linejoin="miter"/><path d="M1066.8 584.01L1070.26 590L1066.8 595.99L1059.88 595.99L1056.42 590L1059.88 584.01Z" fill="#28ae80" stroke="#28ae80" stroke-width="1.73" stroke-linejoin="miter"/><path d="M1082.45 603.51L1085.91 609.5L1082.45 615.49L1075.53 615.49L1072.07 609.5L1075.53 603.51Z" fill="#28ae80" stroke="#28ae80" stroke-width="1.73" stroke-linejoin="miter"/><path d="M1096.89 573.31L1100.35 579.3L1096.89 585.29L1089.97 585.29L1086.51 579.3L1089.97 573.31Z" fill="#28ae80" stroke="#28ae80" stroke-width="1.73" stroke-linejoin="miter"/><path d="M1110.31 604.01L1113.77 610L1110.31 615.99L1103.39 615.99L1099.93 610L1103.39 604.01Z" fill="#28ae80" stroke="#28ae80" stroke-width="1.73" stroke-linejoin="miter"/><path d="M1122.82 586.01L1126.28 592L1122.82 597.99L1115.9 597.99L1112.44 592L1115.9 586.01Z" fill="#28ae80" stroke="#28ae80" stroke-width="1.73" stroke-linejoin="miter"/><path d="M1134.56 631.01L1138.02 637L1134.56 642.99L1127.64 642.99L1124.18 637L1127.64 631.01Z" fill="#28ae80" stroke="#28ae80" stroke-width="1.73" stroke-linejoin="miter"/><path d="M1145.6 621.01L1149.06 627L1145.6 632.99L1138.68 632.99L1135.22 627L1138.68 621.01Z" fill="#28ae80" stroke="#28ae80" stroke-width="1.73" stroke-linejoin="miter"/></g>
<polyline points="191.5,132.3 397.69,296.3 493.56,354.3 556.71,394 603.87,415.6 687.23,471.6 776.93,528.2 840.08,551 887.25,569.8 924.91,577.4 956.26,601.3 983.12,599.3 1006.61,622.3 1027.48,598.8 1046.27,630.4 1063.34,612.8 1078.99,625.3 1093.43,638 1106.85,640.8 1119.36,618 1131.1,650.8 1142.14,627" fill="none" stroke="#3fbc73" stroke-width="2.6" stroke-linejoin="round" stroke-linecap="square"/>
<g><path d="M184.58 132.3H198.42M191.5 125.38V139.22" fill="none" stroke="#3fbc73" stroke-width="1.73" stroke-linecap="butt"/><path d="M390.77 296.3H404.61M397.69 289.38V303.22" fill="none" stroke="#3fbc73" stroke-width="1.73" stroke-linecap="butt"/><path d="M486.64 354.3H500.48M493.56 347.38V361.22" fill="none" stroke="#3fbc73" stroke-width="1.73" stroke-linecap="butt"/><path d="M549.79 394H563.63M556.71 387.08V400.92" fill="none" stroke="#3fbc73" stroke-width="1.73" stroke-linecap="butt"/><path d="M596.95 415.6H610.79M603.87 408.68V422.52" fill="none" stroke="#3fbc73" stroke-width="1.73" stroke-linecap="butt"/><path d="M680.31 471.6H694.15M687.23 464.68V478.52" fill="none" stroke="#3fbc73" stroke-width="1.73" stroke-linecap="butt"/><path d="M770.01 528.2H783.85M776.93 521.28V535.12" fill="none" stroke="#3fbc73" stroke-width="1.73" stroke-linecap="butt"/><path d="M833.16 551H847M840.08 544.08V557.92" fill="none" stroke="#3fbc73" stroke-width="1.73" stroke-linecap="butt"/><path d="M880.33 569.8H894.17M887.25 562.88V576.72" fill="none" stroke="#3fbc73" stroke-width="1.73" stroke-linecap="butt"/><path d="M917.99 577.4H931.83M924.91 570.48V584.32" fill="none" stroke="#3fbc73" stroke-width="1.73" stroke-linecap="butt"/><path d="M949.34 601.3H963.18M956.26 594.38V608.22" fill="none" stroke="#3fbc73" stroke-width="1.73" stroke-linecap="butt"/><path d="M976.2 599.3H990.04M983.12 592.38V606.22" fill="none" stroke="#3fbc73" stroke-width="1.73" stroke-linecap="butt"/><path d="M999.69 622.3H1013.53M1006.61 615.38V629.22" fill="none" stroke="#3fbc73" stroke-width="1.73" stroke-linecap="butt"/><path d="M1020.56 598.8H1034.4M1027.48 591.88V605.72" fill="none" stroke="#3fbc73" stroke-width="1.73" stroke-linecap="butt"/><path d="M1039.35 630.4H1053.19M1046.27 623.48V637.32" fill="none" stroke="#3fbc73" stroke-width="1.73" stroke-linecap="butt"/><path d="M1056.42 612.8H1070.26M1063.34 605.88V619.72" fill="none" stroke="#3fbc73" stroke-width="1.73" stroke-linecap="butt"/><path d="M1072.07 625.3H1085.91M1078.99 618.38V632.22" fill="none" stroke="#3fbc73" stroke-width="1.73" stroke-linecap="butt"/><path d="M1086.51 638H1100.35M1093.43 631.08V644.92" fill="none" stroke="#3fbc73" stroke-width="1.73" stroke-linecap="butt"/><path d="M1099.93 640.8H1113.77M1106.85 633.88V647.72" fill="none" stroke="#3fbc73" stroke-width="1.73" stroke-linecap="butt"/><path d="M1112.44 618H1126.28M1119.36 611.08V624.92" fill="none" stroke="#3fbc73" stroke-width="1.73" stroke-linecap="butt"/><path d="M1124.18 650.8H1138.02M1131.1 643.88V657.72" fill="none" stroke="#3fbc73" stroke-width="1.73" stroke-linecap="butt"/><path d="M1135.22 627H1149.06M1142.14 620.08V633.92" fill="none" stroke="#3fbc73" stroke-width="1.73" stroke-linecap="butt"/></g>
<polyline points="191.5,268.5 397.69,433.3 493.56,505.4 556.71,543.4 603.87,556.6 687.23,596 776.93,658.2 840.08,647.3 887.25,679 924.91,652.1 956.26,659.2 983.12,652 1006.61,704.1 1027.48,674.5 1046.27,691 1063.34,674 1078.99,711.5 1093.43,675.7 1106.85,663.9 1119.36,669 1131.1,696.3 1142.14,672.3" fill="none" stroke="#5ec962" stroke-width="2.6" stroke-linejoin="round" stroke-linecap="square"/>
<g><path d="M184.58 261.58L198.42 275.42M184.58 275.42L198.42 261.58" fill="none" stroke="#5ec962" stroke-width="1.73" stroke-linecap="butt"/><path d="M390.77 426.38L404.61 440.22M390.77 440.22L404.61 426.38" fill="none" stroke="#5ec962" stroke-width="1.73" stroke-linecap="butt"/><path d="M486.64 498.48L500.48 512.32M486.64 512.32L500.48 498.48" fill="none" stroke="#5ec962" stroke-width="1.73" stroke-linecap="butt"/><path d="M549.79 536.48L563.63 550.32M549.79 550.32L563.63 536.48" fill="none" stroke="#5ec962" stroke-width="1.73" stroke-linecap="butt"/><path d="M596.95 549.68L610.79 563.52M596.95 563.52L610.79 549.68" fill="none" stroke="#5ec962" stroke-width="1.73" stroke-linecap="butt"/><path d="M680.31 589.08L694.15 602.92M680.31 602.92L694.15 589.08" fill="none" stroke="#5ec962" stroke-width="1.73" stroke-linecap="butt"/><path d="M770.01 651.28L783.85 665.12M770.01 665.12L783.85 651.28" fill="none" stroke="#5ec962" stroke-width="1.73" stroke-linecap="butt"/><path d="M833.16 640.38L847 654.22M833.16 654.22L847 640.38" fill="none" stroke="#5ec962" stroke-width="1.73" stroke-linecap="butt"/><path d="M880.33 672.08L894.17 685.92M880.33 685.92L894.17 672.08" fill="none" stroke="#5ec962" stroke-width="1.73" stroke-linecap="butt"/><path d="M917.99 645.18L931.83 659.02M917.99 659.02L931.83 645.18" fill="none" stroke="#5ec962" stroke-width="1.73" stroke-linecap="butt"/><path d="M949.34 652.28L963.18 666.12M949.34 666.12L963.18 652.28" fill="none" stroke="#5ec962" stroke-width="1.73" stroke-linecap="butt"/><path d="M976.2 645.08L990.04 658.92M976.2 658.92L990.04 645.08" fill="none" stroke="#5ec962" stroke-width="1.73" stroke-linecap="butt"/><path d="M999.69 697.18L1013.53 711.02M999.69 711.02L1013.53 697.18" fill="none" stroke="#5ec962" stroke-width="1.73" stroke-linecap="butt"/><path d="M1020.56 667.58L1034.4 681.42M1020.56 681.42L1034.4 667.58" fill="none" stroke="#5ec962" stroke-width="1.73" stroke-linecap="butt"/><path d="M1039.35 684.08L1053.19 697.92M1039.35 697.92L1053.19 684.08" fill="none" stroke="#5ec962" stroke-width="1.73" stroke-linecap="butt"/><path d="M1056.42 667.08L1070.26 680.92M1056.42 680.92L1070.26 667.08" fill="none" stroke="#5ec962" stroke-width="1.73" stroke-linecap="butt"/><path d="M1072.07 704.58L1085.91 718.42M1072.07 718.42L1085.91 704.58" fill="none" stroke="#5ec962" stroke-width="1.73" stroke-linecap="butt"/><path d="M1086.51 668.78L1100.35 682.62M1086.51 682.62L1100.35 668.78" fill="none" stroke="#5ec962" stroke-width="1.73" stroke-linecap="butt"/><path d="M1099.93 656.98L1113.77 670.82M1099.93 670.82L1113.77 656.98" fill="none" stroke="#5ec962" stroke-width="1.73" stroke-linecap="butt"/><path d="M1112.44 662.08L1126.28 675.92M1112.44 675.92L1126.28 662.08" fill="none" stroke="#5ec962" stroke-width="1.73" stroke-linecap="butt"/><path d="M1124.18 689.38L1138.02 703.22M1124.18 703.22L1138.02 689.38" fill="none" stroke="#5ec962" stroke-width="1.73" stroke-linecap="butt"/><path d="M1135.22 665.38L1149.06 679.22M1135.22 679.22L1149.06 665.38" fill="none" stroke="#5ec962" stroke-width="1.73" stroke-linecap="butt"/></g>
<polyline points="191.5,174.6 397.69,283.8 493.56,328.8 556.71,357.4 603.87,384.3 687.23,410 776.93,457 840.08,487 887.25,506 924.91,517.8 956.26,553.3 983.12,550.6 1006.61,564.5 1027.48,557.3 1046.27,581.7 1063.34,586.6 1078.99,600 1093.43,591.8 1106.85,612.9 1119.36,594.5 1131.1,618.2 1142.14,604.2" fill="none" stroke="#84d44b" stroke-width="2.6" stroke-linejoin="round" stroke-linecap="square"/>
<g><path d="M191.5 164.81L197.37 174.6L191.5 184.39L185.63 174.6Z" fill="#84d44b" stroke="#84d44b" stroke-width="1.73" stroke-linejoin="miter"/><path d="M397.69 274.01L403.56 283.8L397.69 293.59L391.81 283.8Z" fill="#84d44b" stroke="#84d44b" stroke-width="1.73" stroke-linejoin="miter"/><path d="M493.56 319.01L499.43 328.8L493.56 338.59L487.69 328.8Z" fill="#84d44b" stroke="#84d44b" stroke-width="1.73" stroke-linejoin="miter"/><path d="M556.71 347.61L562.58 357.4L556.71 367.19L550.84 357.4Z" fill="#84d44b" stroke="#84d44b" stroke-width="1.73" stroke-linejoin="miter"/><path d="M603.87 374.51L609.75 384.3L603.87 394.09L598 384.3Z" fill="#84d44b" stroke="#84d44b" stroke-width="1.73" stroke-linejoin="miter"/><path d="M687.23 400.21L693.1 410L687.23 419.79L681.35 410Z" fill="#84d44b" stroke="#84d44b" stroke-width="1.73" stroke-linejoin="miter"/><path d="M776.93 447.21L782.8 457L776.93 466.79L771.06 457Z" fill="#84d44b" stroke="#84d44b" stroke-width="1.73" stroke-linejoin="miter"/><path d="M840.08 477.21L845.95 487L840.08 496.79L834.21 487Z" fill="#84d44b" stroke="#84d44b" stroke-width="1.73" stroke-linejoin="miter"/><path d="M887.25 496.21L893.12 506L887.25 515.79L881.37 506Z" fill="#84d44b" stroke="#84d44b" stroke-width="1.73" stroke-linejoin="miter"/><path d="M924.91 508.01L930.78 517.8L924.91 527.59L919.04 517.8Z" fill="#84d44b" stroke="#84d44b" stroke-width="1.73" stroke-linejoin="miter"/><path d="M956.26 543.51L962.13 553.3L956.26 563.09L950.39 553.3Z" fill="#84d44b" stroke="#84d44b" stroke-width="1.73" stroke-linejoin="miter"/><path d="M983.12 540.81L988.99 550.6L983.12 560.39L977.25 550.6Z" fill="#84d44b" stroke="#84d44b" stroke-width="1.73" stroke-linejoin="miter"/><path d="M1006.61 554.71L1012.48 564.5L1006.61 574.29L1000.74 564.5Z" fill="#84d44b" stroke="#84d44b" stroke-width="1.73" stroke-linejoin="miter"/><path d="M1027.48 547.51L1033.35 557.3L1027.48 567.09L1021.61 557.3Z" fill="#84d44b" stroke="#84d44b" stroke-width="1.73" stroke-linejoin="miter"/><path d="M1046.27 571.91L1052.14 581.7L1046.27 591.49L1040.4 581.7Z" fill="#84d44b" stroke="#84d44b" stroke-width="1.73" stroke-linejoin="miter"/><path d="M1063.34 576.81L1069.21 586.6L1063.34 596.39L1057.47 586.6Z" fill="#84d44b" stroke="#84d44b" stroke-width="1.73" stroke-linejoin="miter"/><path d="M1078.99 590.21L1084.86 600L1078.99 609.79L1073.12 600Z" fill="#84d44b" stroke="#84d44b" stroke-width="1.73" stroke-linejoin="miter"/><path d="M1093.43 582.01L1099.31 591.8L1093.43 601.59L1087.56 591.8Z" fill="#84d44b" stroke="#84d44b" stroke-width="1.73" stroke-linejoin="miter"/><path d="M1106.85 603.11L1112.72 612.9L1106.85 622.69L1100.97 612.9Z" fill="#84d44b" stroke="#84d44b" stroke-width="1.73" stroke-linejoin="miter"/><path d="M1119.36 584.71L1125.23 594.5L1119.36 604.29L1113.49 594.5Z" fill="#84d44b" stroke="#84d44b" stroke-width="1.73" stroke-linejoin="miter"/><path d="M1131.1 608.41L1136.97 618.2L1131.1 627.99L1125.22 618.2Z" fill="#84d44b" stroke="#84d44b" stroke-width="1.73" stroke-linejoin="miter"/><path d="M1142.14 594.41L1148.01 604.2L1142.14 613.99L1136.27 604.2Z" fill="#84d44b" stroke="#84d44b" stroke-width="1.73" stroke-linejoin="miter"/></g>
<polyline points="191.5,151.5 397.69,279 493.56,327.1 556.71,357 603.87,383.5 687.23,424.8 776.93,471.8 840.08,499 887.25,528.2 924.91,522.9 956.26,553 983.12,553 1006.61,574 1027.48,568 1046.27,587 1063.34,590 1078.99,603 1093.43,597 1106.85,614 1119.36,599 1131.1,621 1142.14,609" fill="none" stroke="#addc30" stroke-width="2.6" stroke-linejoin="round" stroke-linecap="square"/>
<g><path d="M191.5 144.58V158.42" fill="none" stroke="#addc30" stroke-width="1.73" stroke-linecap="butt"/><path d="M397.69 272.08V285.92" fill="none" stroke="#addc30" stroke-width="1.73" stroke-linecap="butt"/><path d="M493.56 320.18V334.02" fill="none" stroke="#addc30" stroke-width="1.73" stroke-linecap="butt"/><path d="M556.71 350.08V363.92" fill="none" stroke="#addc30" stroke-width="1.73" stroke-linecap="butt"/><path d="M603.87 376.58V390.42" fill="none" stroke="#addc30" stroke-width="1.73" stroke-linecap="butt"/><path d="M687.23 417.88V431.72" fill="none" stroke="#addc30" stroke-width="1.73" stroke-linecap="butt"/><path d="M776.93 464.88V478.72" fill="none" stroke="#addc30" stroke-width="1.73" stroke-linecap="butt"/><path d="M840.08 492.08V505.92" fill="none" stroke="#addc30" stroke-width="1.73" stroke-linecap="butt"/><path d="M887.25 521.28V535.12" fill="none" stroke="#addc30" stroke-width="1.73" stroke-linecap="butt"/><path d="M924.91 515.98V529.82" fill="none" stroke="#addc30" stroke-width="1.73" stroke-linecap="butt"/><path d="M956.26 546.08V559.92" fill="none" stroke="#addc30" stroke-width="1.73" stroke-linecap="butt"/><path d="M983.12 546.08V559.92" fill="none" stroke="#addc30" stroke-width="1.73" stroke-linecap="butt"/><path d="M1006.61 567.08V580.92" fill="none" stroke="#addc30" stroke-width="1.73" stroke-linecap="butt"/><path d="M1027.48 561.08V574.92" fill="none" stroke="#addc30" stroke-width="1.73" stroke-linecap="butt"/><path d="M1046.27 580.08V593.92" fill="none" stroke="#addc30" stroke-width="1.73" stroke-linecap="butt"/><path d="M1063.34 583.08V596.92" fill="none" stroke="#addc30" stroke-width="1.73" stroke-linecap="butt"/><path d="M1078.99 596.08V609.92" fill="none" stroke="#addc30" stroke-width="1.73" stroke-linecap="butt"/><path d="M1093.43 590.08V603.92" fill="none" stroke="#addc30" stroke-width="1.73" stroke-linecap="butt"/><path d="M1106.85 607.08V620.92" fill="none" stroke="#addc30" stroke-width="1.73" stroke-linecap="butt"/><path d="M1119.36 592.08V605.92" fill="none" stroke="#addc30" stroke-width="1.73" stroke-linecap="butt"/><path d="M1131.1 614.08V627.92" fill="none" stroke="#addc30" stroke-width="1.73" stroke-linecap="butt"/><path d="M1142.14 602.08V615.92" fill="none" stroke="#addc30" stroke-width="1.73" stroke-linecap="butt"/></g>
<polyline points="191.5,205.1 397.69,339.8 493.56,373.6 556.71,413.6 603.87,417.8 687.23,458.2 776.93,505.4 840.08,513.8 887.25,541.3 924.91,537.1 956.26,564.3 983.12,552.8 1006.61,584.8 1027.48,563.3 1046.27,588.9 1063.34,579.7 1078.99,597 1093.43,582 1106.85,604.2 1119.36,582.7 1131.1,612.9 1142.14,591.8" fill="none" stroke="#d8e219" stroke-width="2.6" stroke-linejoin="round" stroke-linecap="square"/>
<g><path d="M184.58 205.1H198.42" fill="none" stroke="#d8e219" stroke-width="1.73" stroke-linecap="butt"/><path d="M390.77 339.8H404.61" fill="none" stroke="#d8e219" stroke-width="1.73" stroke-linecap="butt"/><path d="M486.64 373.6H500.48" fill="none" stroke="#d8e219" stroke-width="1.73" stroke-linecap="butt"/><path d="M549.79 413.6H563.63" fill="none" stroke="#d8e219" stroke-width="1.73" stroke-linecap="butt"/><path d="M596.95 417.8H610.79" fill="none" stroke="#d8e219" stroke-width="1.73" stroke-linecap="butt"/><path d="M680.31 458.2H694.15" fill="none" stroke="#d8e219" stroke-width="1.73" stroke-linecap="butt"/><path d="M770.01 505.4H783.85" fill="none" stroke="#d8e219" stroke-width="1.73" stroke-linecap="butt"/><path d="M833.16 513.8H847" fill="none" stroke="#d8e219" stroke-width="1.73" stroke-linecap="butt"/><path d="M880.33 541.3H894.17" fill="none" stroke="#d8e219" stroke-width="1.73" stroke-linecap="butt"/><path d="M917.99 537.1H931.83" fill="none" stroke="#d8e219" stroke-width="1.73" stroke-linecap="butt"/><path d="M949.34 564.3H963.18" fill="none" stroke="#d8e219" stroke-width="1.73" stroke-linecap="butt"/><path d="M976.2 552.8H990.04" fill="none" stroke="#d8e219" stroke-width="1.73" stroke-linecap="butt"/><path d="M999.69 584.8H1013.53" fill="none" stroke="#d8e219" stroke-width="1.73" stroke-linecap="butt"/><path d="M1020.56 563.3H1034.4" fill="none" stroke="#d8e219" stroke-width="1.73" stroke-linecap="butt"/><path d="M1039.35 588.9H1053.19" fill="none" stroke="#d8e219" stroke-width="1.73" stroke-linecap="butt"/><path d="M1056.42 579.7H1070.26" fill="none" stroke="#d8e219" stroke-width="1.73" stroke-linecap="butt"/><path d="M1072.07 597H1085.91" fill="none" stroke="#d8e219" stroke-width="1.73" stroke-linecap="butt"/><path d="M1086.51 582H1100.35" fill="none" stroke="#d8e219" stroke-width="1.73" stroke-linecap="butt"/><path d="M1099.93 604.2H1113.77" fill="none" stroke="#d8e219" stroke-width="1.73" stroke-linecap="butt"/><path d="M1112.44 582.7H1126.28" fill="none" stroke="#d8e219" stroke-width="1.73" stroke-linecap="butt"/><path d="M1124.18 612.9H1138.02" fill="none" stroke="#d8e219" stroke-width="1.73" stroke-linecap="butt"/><path d="M1135.22 591.8H1149.06" fill="none" stroke="#d8e219" stroke-width="1.73" stroke-linecap="butt"/></g>
<path d="M144.3 689.96H1190" stroke="#000" stroke-width="2.7" stroke-dasharray="9.3 4.36" fill="none"/>
</g>
<path d="M303.4 744.85v6.4M735.55 744.85v6.4M1167.7 744.85v6.4" stroke="#000" stroke-width="1.4" fill="none"/>
<path d="M173.31 744.85v4.1M207.53 744.85v4.1M236.46 744.85v4.1M261.52 744.85v4.1M283.63 744.85v4.1M433.49 744.85v4.1M509.59 744.85v4.1M563.58 744.85v4.1M605.46 744.85v4.1M639.68 744.85v4.1M668.61 744.85v4.1M693.67 744.85v4.1M715.78 744.85v4.1M865.64 744.85v4.1M941.74 744.85v4.1M995.73 744.85v4.1M1037.61 744.85v4.1M1071.83 744.85v4.1M1100.76 744.85v4.1M1125.82 744.85v4.1M1147.93 744.85v4.1M144.3 689.76h-4.1M144.3 638.69h-4.1M144.3 602.46h-4.1M144.3 574.36h-4.1M144.3 551.4h-4.1M144.3 531.98h-4.1M144.3 515.16h-4.1M144.3 500.33h-4.1M144.3 399.76h-4.1M144.3 348.69h-4.1M144.3 312.46h-4.1M144.3 284.36h-4.1M144.3 261.4h-4.1M144.3 241.98h-4.1M144.3 225.16h-4.1M144.3 210.33h-4.1M144.3 109.76h-4.1M144.3 58.69h-4.1M144.3 22.46h-4.1" stroke="#000" stroke-width="1.12" fill="none"/>
<path d="M144.3 197.06h-6.4M144.3 487.06h-6.4" stroke="#000" stroke-width="1.4" fill="none"/>
<rect x="144.3" y="5.3" width="1045.7" height="739.55" fill="none" stroke="#000" stroke-width="1.4"/>
<text x="302.2" y="783.2" font-size="34.4" text-anchor="middle">10<tspan font-size="24.08" dy="-12.9">2</tspan></text>
<text x="734.35" y="783.2" font-size="34.4" text-anchor="middle">10<tspan font-size="24.08" dy="-12.9">3</tspan></text>
<text x="1166.5" y="783.2" font-size="34.4" text-anchor="middle">10<tspan font-size="24.08" dy="-12.9">4</tspan></text>
<text x="130.6" y="209.96" font-size="34.4" text-anchor="end">10<tspan font-size="24.08" dy="-12.9">0</tspan></text>
<text x="130.6" y="499.96" font-size="34.4" text-anchor="end">10<tspan font-size="24.08" dy="-12.9">−1</tspan></text>
<text x="667" y="823.7" font-size="34.4" text-anchor="middle">time [s]</text>
<text transform="translate(36 376) rotate(-90)" font-size="34.4" text-anchor="middle">persistence [e<tspan font-size="24.08" dx="4.5" dy="-12.9">−</tspan><tspan dx="-4.5" dy="12.9"> s</tspan><tspan font-size="24.08" dy="-12.9">−1</tspan><tspan dy="12.9">]</tspan></text>
<rect x="780.8" y="18" width="396.3" height="323.5" rx="3.5" ry="3.5" fill="#fff" fill-opacity="0.8" stroke="#e0e0e0" stroke-width="1.4"/>
<path d="M789.7 36.7H837.9" stroke="#440154" stroke-width="2.6" stroke-linecap="square" fill="none"/>
<circle cx="813.8" cy="36.7" r="6.92" fill="#440154" stroke="#440154" stroke-width="1.73" stroke-linejoin="miter"/>
<text x="857.7" y="45.7" font-size="24.2">18453</text>
<path d="M789.7 72H837.9" stroke="#48186a" stroke-width="2.6" stroke-linecap="square" fill="none"/>
<path d="M806.88 78.92L820.72 78.92L820.72 65.08L806.88 65.08Z" fill="#48186a" stroke="#48186a" stroke-width="1.73" stroke-linejoin="miter"/>
<text x="857.7" y="81" font-size="24.2">18272</text>
<path d="M789.7 107.3H837.9" stroke="#472d7b" stroke-width="2.6" stroke-linecap="square" fill="none"/>
<path d="M813.8 97.51L823.59 107.3L813.8 117.09L804.01 107.3Z" fill="#472d7b" stroke="#472d7b" stroke-width="1.73" stroke-linejoin="miter"/>
<text x="857.7" y="116.3" font-size="24.2">18632</text>
<path d="M789.7 142.6H837.9" stroke="#424086" stroke-width="2.6" stroke-linecap="square" fill="none"/>
<path d="M813.8 135.68L806.88 149.52L820.72 149.52Z" fill="#424086" stroke="#424086" stroke-width="1.73" stroke-linejoin="miter"/>
<text x="857.7" y="151.6" font-size="24.2">18267</text>
<path d="M789.7 177.9H837.9" stroke="#3b528b" stroke-width="2.6" stroke-linecap="square" fill="none"/>
<path d="M813.8 184.82L806.88 170.98L820.72 170.98Z" fill="#3b528b" stroke="#3b528b" stroke-width="1.73" stroke-linejoin="miter"/>
<text x="857.7" y="186.9" font-size="24.2">18268</text>
<path d="M789.7 213.2H837.9" stroke="#33638d" stroke-width="2.6" stroke-linecap="square" fill="none"/>
<path d="M806.88 213.2L820.72 206.28L820.72 220.12Z" fill="#33638d" stroke="#33638d" stroke-width="1.73" stroke-linejoin="miter"/>
<text x="857.7" y="222.2" font-size="24.2">18285</text>
<path d="M789.7 248.5H837.9" stroke="#2c728e" stroke-width="2.6" stroke-linecap="square" fill="none"/>
<path d="M820.72 248.5L806.88 241.58L806.88 255.42Z" fill="#2c728e" stroke="#2c728e" stroke-width="1.73" stroke-linejoin="miter"/>
<text x="857.7" y="257.5" font-size="24.2">18548</text>
<path d="M789.7 283.8H837.9" stroke="#26828e" stroke-width="2.6" stroke-linecap="square" fill="none"/>
<path d="M813.8 276.88L820.38 281.66L817.87 289.4L809.73 289.4L807.22 281.66Z" fill="#26828e" stroke="#26828e" stroke-width="1.73" stroke-linejoin="miter"/>
<text x="857.7" y="292.8" font-size="24.2">18452</text>
<path d="M789.7 319.1H837.9" stroke="#21918c" stroke-width="2.6" stroke-linecap="square" fill="none"/>
<path d="M813.8 312.18L815.35 316.96L820.38 316.96L816.31 319.92L817.87 324.7L813.8 321.74L809.73 324.7L811.29 319.92L807.22 316.96L812.25 316.96Z" fill="#21918c" stroke="#21918c" stroke-width="1.73" stroke-linejoin="bevel"/>
<text x="857.7" y="328.1" font-size="24.2">18280</text>
<path d="M981.7 36.7H1029.9" stroke="#1fa088" stroke-width="2.6" stroke-linecap="square" fill="none"/>
<path d="M1005.8 29.78L1011.79 33.24L1011.79 40.16L1005.8 43.62L999.81 40.16L999.81 33.24Z" fill="#1fa088" stroke="#1fa088" stroke-width="1.73" stroke-linejoin="miter"/>
<text x="1049.7" y="45.7" font-size="24.2">18284</text>
<path d="M981.7 72H1029.9" stroke="#28ae80" stroke-width="2.6" stroke-linecap="square" fill="none"/>
<path d="M1009.26 66.01L1012.72 72L1009.26 77.99L1002.34 77.99L998.88 72L1002.34 66.01Z" fill="#28ae80" stroke="#28ae80" stroke-width="1.73" stroke-linejoin="miter"/>
<text x="1049.7" y="81" font-size="24.2">18278</text>
<path d="M981.7 107.3H1029.9" stroke="#3fbc73" stroke-width="2.6" stroke-linecap="square" fill="none"/>
<path d="M998.88 107.3H1012.72M1005.8 100.38V114.22" fill="none" stroke="#3fbc73" stroke-width="1.73" stroke-linecap="butt"/>
<text x="1049.7" y="116.3" font-size="24.2">18269</text>
<path d="M981.7 142.6H1029.9" stroke="#5ec962" stroke-width="2.6" stroke-linecap="square" fill="none"/>
<path d="M998.88 135.68L1012.72 149.52M998.88 149.52L1012.72 135.68" fill="none" stroke="#5ec962" stroke-width="1.73" stroke-linecap="butt"/>
<text x="1049.7" y="151.6" font-size="24.2">18458</text>
<path d="M981.7 177.9H1029.9" stroke="#84d44b" stroke-width="2.6" stroke-linecap="square" fill="none"/>
<path d="M1005.8 168.11L1011.67 177.9L1005.8 187.69L999.93 177.9Z" fill="#84d44b" stroke="#84d44b" stroke-width="1.73" stroke-linejoin="miter"/>
<text x="1049.7" y="186.9" font-size="24.2">18249</text>
<path d="M981.7 213.2H1029.9" stroke="#addc30" stroke-width="2.6" stroke-linecap="square" fill="none"/>
<path d="M1005.8 206.28V220.12" fill="none" stroke="#addc30" stroke-width="1.73" stroke-linecap="butt"/>
<text x="1049.7" y="222.2" font-size="24.2">18221</text>
<path d="M981.7 248.5H1029.9" stroke="#d8e219" stroke-width="2.6" stroke-linecap="square" fill="none"/>
<path d="M998.88 248.5H1012.72" fill="none" stroke="#d8e219" stroke-width="1.73" stroke-linecap="butt"/>
<text x="1049.7" y="257.5" font-size="24.2">18628</text>
<path d="M981.7 283.8H1029.9" stroke="#000" stroke-width="2.7" stroke-dasharray="9.3 4.36" fill="none"/>
<text x="1049.7" y="292.8" font-size="24.2">dark level</text>
</svg>
</body></html>
